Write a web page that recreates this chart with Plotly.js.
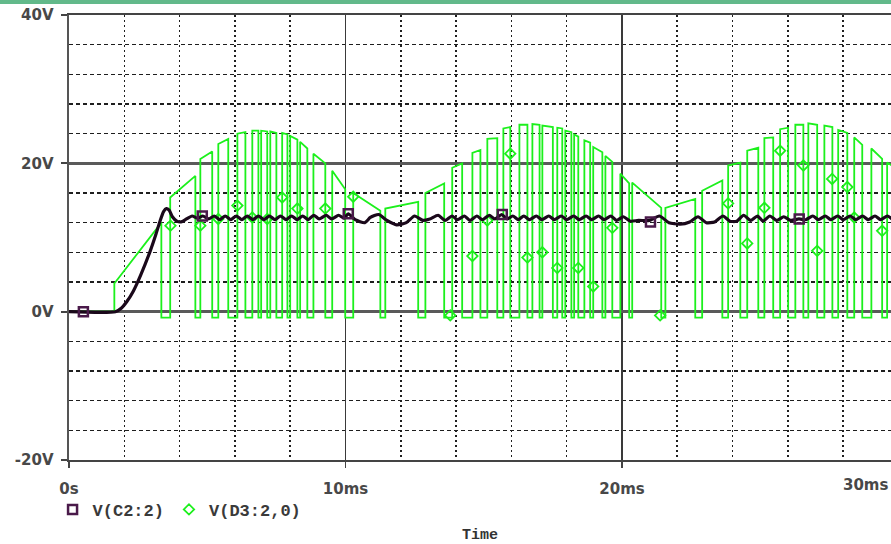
<!DOCTYPE html>
<html>
<head>
<meta charset="utf-8">
<script src="https://cdn.plot.ly/plotly-3.0.1.min.js"></script>
<style>
  html, body { margin: 0; padding: 0; background: #fff; overflow: hidden; }
  #band { position: absolute; left: 0; top: 0; width: 891px; height: 4px; background: #62b98a; z-index: 5; }
  #chart { position: absolute; left: 0; top: 0; width: 891px; height: 544px; }
</style>
</head>
<body>
<div id="band"></div>
<div id="chart"></div>
<script>
// ---------- DATA ----------
// V(C2:2) trace (time in ms, voltage in V)
const c2Time = [0, 1.68, 1.9, 2.1, 2.33, 2.6, 2.94, 3.15, 3.3, 3.42, 3.52, 3.62, 3.74, 3.9, 4.05, 4.25, 4.45, 4.65, 4.84, 5.05, 5.25, 5.45, 5.65, 5.85, 6.05, 6.25, 6.45, 6.65, 6.85, 7.05, 7.25, 7.45, 7.65, 7.85, 8.05, 8.25, 8.45, 8.65, 8.85, 9.05, 9.3, 9.5, 9.75, 9.95, 10.1, 10.35, 10.7, 10.9, 11.2, 11.5, 11.85, 12.2, 12.5, 12.8, 13.05, 13.35, 13.6, 13.85, 14.05, 14.3, 14.5, 14.75, 14.95, 15.2, 15.4, 15.65, 15.85, 16.05, 16.25, 16.45, 16.65, 16.9, 17.1, 17.35, 17.55, 17.8, 18.0, 18.25, 18.45, 18.7, 18.9, 19.15, 19.35, 19.6, 19.8, 20.05, 20.3, 20.6, 21.0, 21.35, 21.7, 22.1, 22.45, 22.75, 23.05, 23.35, 23.65, 23.9, 24.15, 24.4, 24.65, 24.9, 25.1, 25.35, 25.6, 25.85, 26.1, 26.4, 26.65, 26.9, 27.1, 27.35, 27.55, 27.8, 28.0, 28.25, 28.45, 28.7, 28.9, 29.15, 29.35, 29.6, 29.8];
const c2Volt = [0, 0, 0.5, 1.4, 2.8, 5.0, 8.2, 10.5, 12.3, 13.5, 13.9, 13.7, 12.8, 12.2, 12.1, 12.5, 12.9, 12.6, 12.9, 12.5, 12.9, 12.4, 12.9, 12.4, 12.9, 12.4, 12.9, 12.4, 12.9, 12.4, 12.9, 12.4, 12.9, 12.4, 12.9, 12.4, 12.9, 12.4, 13.0, 12.5, 13.0, 12.5, 13.0, 12.6, 13.2, 12.4, 12.0, 12.7, 13.1, 12.3, 11.7, 12.0, 12.9, 12.3, 12.5, 13.0, 12.3, 12.9, 12.4, 12.9, 12.3, 12.9, 12.4, 13.0, 12.5, 13.1, 12.5, 12.9, 12.4, 12.9, 12.4, 12.9, 12.4, 12.9, 12.4, 12.9, 12.4, 12.9, 12.4, 12.9, 12.4, 12.9, 12.4, 12.9, 12.3, 12.8, 12.2, 12.3, 12.3, 12.9, 12.0, 11.8, 12.1, 12.8, 12.0, 12.1, 12.9, 12.2, 12.2, 13.0, 12.3, 12.9, 12.2, 12.9, 12.3, 12.8, 12.3, 12.5, 12.4, 12.9, 12.4, 12.9, 12.4, 12.9, 12.4, 12.9, 12.4, 12.9, 12.4, 12.9, 12.4, 12.9, 12.4];
// square markers on V(C2:2)
const c2MarkTime = [0.52, 4.82, 10.1, 15.67, 21.03, 26.41];
const c2MarkVolt = [0, 12.9, 13.2, 13.1, 12.1, 12.5];

// V(D3:2,0) trace: start-up ramp, then switching pulses
const d3RampTime = [0, 1.64, 1.64, 3.34, 3.34];
const d3RampVolt = [0, 0, 3.8, 12.0, -0.8];
const d3Low = -0.8;
const d3PulseUp   = [3.66, 4.75, 5.40, 6.09, 6.63, 6.95, 7.28, 7.71, 8.00, 8.36, 8.84, 9.52, 10.28, 11.44, 12.89, 13.86, 14.59, 15.13, 15.71, 16.29, 16.76, 17.12, 17.66, 17.95, 18.27, 18.64, 18.96, 19.40, 19.94, 20.37, 21.57, 22.90, 23.84, 24.53, 25.15, 25.72, 26.27, 26.74, 27.32, 27.82, 28.40, 29.02, 29.59];
const d3PulseDown = [4.57, 5.18, 5.76, 6.38, 6.85, 7.17, 7.50, 7.90, 8.26, 8.62, 9.27, 9.99, 11.26, 12.63, 13.57, 14.22, 14.88, 15.49, 15.96, 16.58, 17.02, 17.50, 17.84, 18.17, 18.42, 18.85, 19.29, 19.65, 20.26, 21.42, 22.65, 23.63, 24.28, 24.93, 25.47, 26.01, 26.56, 27.06, 27.61, 28.15, 28.69, 29.41, 30.06];
const d3TopStart  = [15.4, 20.6, 22.6, 24.0, 24.4, 24.4, 24.3, 24.1, 23.7, 22.9, 21.3, 19.0, 16.0, 13.9, 16.0, 19.4, 21.4, 23.3, 24.7, 25.2, 25.3, 25.1, 24.8, 24.4, 23.9, 23.1, 22.2, 21.0, 18.6, 17.4, 14.0, 16.3, 19.7, 21.7, 23.4, 24.6, 25.2, 25.4, 25.1, 24.5, 23.5, 22.0, 20.1];
const d3TopEnd    = [18.3, 21.6, 23.3, 24.2, 24.4, 24.3, 24.1, 23.9, 23.2, 22.0, 20.0, 16.5, 13.6, 14.8, 17.3, 20.0, 21.8, 23.4, 24.9, 25.2, 25.2, 24.9, 24.7, 24.2, 23.6, 22.8, 21.5, 20.2, 17.3, 14.0, 15.2, 17.7, 20.1, 22.1, 23.5, 24.8, 25.2, 25.2, 24.9, 24.1, 22.5, 20.6, 19.0];
// diamond markers on V(D3:2,0)
const d3MarkTime = [3.67, 4.75, 5.40, 6.09, 6.63, 7.17, 7.71, 8.26, 9.27, 10.28, 13.79, 14.59, 15.13, 15.96, 16.58, 17.12, 17.66, 18.42, 18.96, 19.65, 21.38, 23.84, 24.53, 25.15, 25.72, 26.56, 27.06, 27.60, 28.15, 28.40, 29.41];
const d3MarkVolt = [11.6, 11.6, 12.5, 14.3, 12.7, 12.5, 15.4, 13.9, 13.9, 15.5, -0.5, 7.5, 12.3, 21.3, 7.3, 8.0, 5.9, 5.9, 3.4, 11.3, -0.5, 14.6, 9.2, 14.0, 21.7, 19.7, 8.2, 17.9, 16.8, 12.7, 10.9];

const seriesNames = ['V(C2:2)', 'V(D3:2,0)'];
const yTickVals = [-20, 0, 20, 40];
const yTickText = ['-20V', '0V', '20V', '40V'];
const xTickVals = [0, 10, 20];
const xTickText = ['0s', '10ms', '20ms'];
const xEdgeLabel = '30ms';
const xTitle = 'Time';

// ---------- build pulse polyline ----------
const d3x = d3RampTime.slice();
const d3y = d3RampVolt.slice();
for (let i = 0; i < d3PulseUp.length; i++) {
  d3x.push(d3PulseUp[i], d3PulseUp[i], d3PulseDown[i], d3PulseDown[i]);
  d3y.push(d3Low, d3TopStart[i], d3TopEnd[i], d3Low);
}

const green = '#1cf01c';
const dark = '#1a081a';

const traces = [
  { x: d3x, y: d3y, mode: 'lines', line: { color: green, width: 1.8 }, showlegend: false, hoverinfo: 'skip' },
  { x: d3MarkTime, y: d3MarkVolt, mode: 'markers', name: seriesNames[1], legendrank: 2,
    marker: { symbol: 'diamond-open', size: 8, color: green, line: { color: green, width: 1.8 } } },
  { x: c2Time, y: c2Volt, mode: 'lines', line: { color: dark, width: 3.2, shape: 'spline', smoothing: 0.6 }, showlegend: false, hoverinfo: 'skip' },
  { x: c2MarkTime, y: c2MarkVolt, mode: 'markers', name: seriesNames[0], legendrank: 1,
    marker: { symbol: 'square-open', size: 9, color: '#4a1a4a', line: { color: '#3a103a', width: 2.5 } } }
];

const tickFont = { family: 'DejaVu Sans', size: 15, color: '#484848', weight: 'bold' };

const layout = {
  width: 891, height: 544,
  margin: { l: 69, r: 0, t: 15, b: 84 },
  paper_bgcolor: '#ffffff', plot_bgcolor: '#ffffff',
  showlegend: true,
  legend: { orientation: 'h', x: -0.02, xanchor: 'left', y: -0.112, yanchor: 'middle',
            font: { family: 'Liberation Mono', size: 17, color: '#3a3a3a', weight: 'bold' }, itemwidth: 30, bgcolor: 'rgba(0,0,0,0)' },
  xaxis: {
    range: [0, 29.73], fixedrange: true,
    tickmode: 'array', tickvals: xTickVals, ticktext: xTickText,
    ticks: 'outside', ticklen: 6, tickwidth: 1.5, tickcolor: '#444',
    ticklabelstandoff: 8,
    tickfont: tickFont,
    showgrid: true, gridcolor: '#3a3a3a', gridwidth: 1.6,
    showline: true, linecolor: '#444', linewidth: 2, mirror: true,
    zeroline: false,
    minor: { tickmode: 'linear', tick0: 0, dtick: 2, showgrid: true, gridcolor: '#1e1e1e', gridwidth: 1.6, griddash: '2px,3px', ticks: '' },
    title: { text: xTitle, font: { family: 'Liberation Mono', size: 15, color: '#333', weight: 'bold' }, standoff: 36 }
  },
  yaxis: {
    range: [-20, 40], fixedrange: true,
    tickmode: 'array', tickvals: yTickVals, ticktext: yTickText,
    ticks: 'outside', ticklen: 6, tickwidth: 2, tickcolor: '#444',
    ticklabelstandoff: 4,
    tickfont: tickFont,
    showgrid: true, gridcolor: '#5a5a5a', gridwidth: 2.4,
    showline: true, linecolor: '#555', linewidth: 2.5,
    zeroline: false,
    minor: { tickmode: 'linear', tick0: 0, dtick: 4, showgrid: true, gridcolor: '#1e1e1e', gridwidth: 1.6, griddash: '4px,3px', ticks: '' }
  },
  annotations: [
    { text: xEdgeLabel, xref: 'paper', x: 1, xanchor: 'right', yref: 'paper', y: -0.056, yanchor: 'middle',
      showarrow: false, font: tickFont }
  ]
};

Plotly.newPlot('chart', traces, layout, { staticPlot: true, displayModeBar: false });
</script>
</body>
</html>
